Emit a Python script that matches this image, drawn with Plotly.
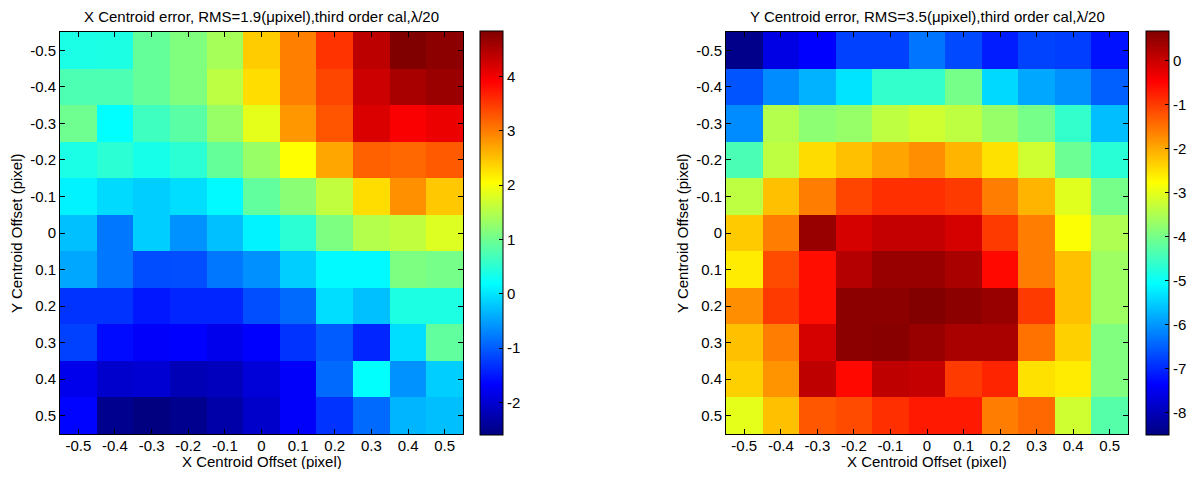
import plotly.graph_objects as go

offsets = [-0.5, -0.4, -0.3, -0.2, -0.1, 0.0, 0.1, 0.2, 0.3, 0.4, 0.5]
tick_labels = ["-0.5", "-0.4", "-0.3", "-0.2", "-0.1", "0", "0.1", "0.2", "0.3", "0.4", "0.5"]

# X centroid error (rows: Y offset -0.5 .. 0.5, cols: X offset -0.5 .. 0.5)
x_err = [
    [0.38, 0.40, 0.93, 1.12, 1.40, 2.42, 2.98, 3.54, 4.40, 4.84, 4.75],
    [0.75, 0.75, 0.93, 1.12, 1.57, 2.30, 2.98, 3.40, 4.28, 4.55, 4.65],
    [1.00, 0.19, 0.65, 0.85, 1.30, 1.86, 2.80, 3.30, 4.17, 3.95, 4.05],
    [0.38, 0.50, 0.35, 0.50, 0.93, 1.30, 2.05, 2.70, 3.20, 3.15, 3.25],
    [0.10, -0.08, -0.17, -0.05, 0.15, 0.90, 1.20, 1.60, 2.30, 2.85, 2.45],
    [-0.27, -0.80, -0.17, -0.60, -0.27, 0.10, 0.50, 1.10, 1.50, 1.60, 1.80],
    [-0.45, -0.80, -1.11, -1.10, -0.80, -0.62, -0.17, 0.15, 0.15, 1.10, 1.05],
    [-1.30, -1.30, -1.50, -1.40, -1.40, -1.10, -0.90, -0.05, -0.27, 0.40, 0.40],
    [-1.20, -1.60, -1.70, -1.68, -1.80, -1.67, -1.30, -1.00, -1.40, -0.05, 0.90],
    [-1.80, -2.04, -2.00, -2.20, -2.15, -1.95, -1.70, -0.90, 0.20, -0.60, -0.17],
    [-1.65, -2.50, -2.60, -2.50, -2.30, -2.05, -1.70, -1.30, -0.90, -0.35, -0.28],
]

# Y centroid error
y_err = [
    [-8.40, -7.60, -7.35, -6.77, -6.77, -6.30, -6.70, -7.10, -6.75, -6.80, -7.20],
    [-6.60, -6.10, -5.75, -5.30, -4.60, -4.60, -4.00, -5.40, -5.85, -6.05, -6.50],
    [-6.10, -3.45, -3.80, -3.70, -3.35, -3.20, -3.35, -3.70, -4.00, -4.60, -5.65],
    [-4.40, -3.35, -2.45, -2.20, -1.95, -1.75, -2.10, -2.50, -3.20, -4.10, -4.70],
    [-3.35, -2.20, -1.60, -1.10, -0.90, -0.90, -1.00, -1.60, -2.10, -3.05, -4.00],
    [-2.30, -1.60, 0.45, -0.10, 0.05, 0.05, -0.10, -1.00, -1.60, -2.80, -3.50],
    [-2.60, -1.15, -0.60, 0.20, 0.45, 0.45, 0.30, -0.55, -1.60, -2.20, -3.65],
    [-1.75, -1.00, -0.60, 0.55, 0.55, 0.65, 0.55, 0.45, -1.00, -2.20, -3.65],
    [-2.20, -1.60, -0.10, 0.55, 0.60, 0.45, 0.30, 0.30, -1.50, -2.35, -3.90],
    [-2.35, -1.80, 0.10, -0.55, 0.10, 0.05, -1.00, -0.80, -2.50, -2.60, -3.90],
    [-3.00, -2.20, -1.25, -1.15, -0.90, -0.70, -0.70, -1.60, -1.40, -3.20, -4.30],
]

x_range = [-2.6, 4.84]
y_range = [-8.5, 0.67]
x_cb_ticks = [-2, -1, 0, 1, 2, 3, 4]
y_cb_ticks = [-8, -7, -6, -5, -4, -3, -2, -1, 0]

titles = [
    "X Centroid error, RMS=1.9(\u03bcpixel),third order cal,\u03bb/20",
    "Y Centroid error, RMS=3.5(\u03bcpixel),third order cal,\u03bb/20",
]
x_title = "X Centroid Offset (pixel)"
y_title = "Y Centroid Offset (pixel)"

jet = [
    [0.0, "rgb(0,0,128)"],
    [0.125, "rgb(0,0,255)"],
    [0.375, "rgb(0,255,255)"],
    [0.625, "rgb(255,255,0)"],
    [0.875, "rgb(255,0,0)"],
    [1.0, "rgb(128,0,0)"],
]

# page body has an 8px margin; figure placed at (8, 8)
OFF = 8
W, H = 1196 - OFF, 477 - 2 * OFF
FONT = "Liberation Sans, Arial, sans-serif"

def px_x(v):
    return (v - OFF) / W

def px_y(v):
    return 1 - (v - OFF) / H

top, bottom = 32, 434
left_px = [60, 463]
right_px = [726, 1128]
left_dom = [px_x(left_px[0]), px_x(left_px[1])]
right_dom = [px_x(right_px[0]), px_x(right_px[1])]
ydom = [px_y(bottom), px_y(top)]

fig = go.Figure()

def cb(xpix, ticks):
    return dict(
        x=px_x(xpix), xanchor="left",
        thickness=23, thicknessmode="pixels",
        len=(bottom - top + 2) / H, lenmode="fraction",
        y=(px_y(bottom) + px_y(top)) / 2, yanchor="middle",
        outlinecolor="black", outlinewidth=1,
        ticks="inside", ticklen=4, tickcolor="black",
        tickfont=dict(family=FONT, size=15, color="black"),
        tickvals=ticks, ticktext=[str(t) for t in ticks],
        xpad=0, ypad=0,
    )

fig.add_trace(go.Heatmap(
    x=offsets, y=offsets, z=x_err, colorscale=jet,
    zmin=x_range[0], zmax=x_range[1],
    xaxis="x", yaxis="y",
    colorbar=cb(480, x_cb_ticks),
))
fig.add_trace(go.Heatmap(
    x=offsets, y=offsets, z=y_err, colorscale=jet,
    zmin=y_range[0], zmax=y_range[1],
    xaxis="x2", yaxis="y2",
    colorbar=cb(1146, y_cb_ticks),
))

def axis_style(dom, anchor, reversed_=False):
    return dict(
        domain=dom, anchor=anchor, automargin=False,
        range=[0.55, -0.55] if reversed_ else [-0.55, 0.55],
        tickvals=offsets, ticktext=tick_labels,
        ticks="inside", ticklen=5, tickcolor="black",
        showline=True, linecolor="black", linewidth=1, mirror="ticks",
        showgrid=False, zeroline=False,
        ticklabelstandoff=0 if reversed_ else -2,
        tickfont=dict(family=FONT, size=15, color="black"),
    )

fig.update_layout(
    width=W, height=H,
    margin=dict(l=0, r=0, t=0, b=0, autoexpand=False),
    paper_bgcolor="white", plot_bgcolor="white",
    xaxis=axis_style(left_dom, "y"),
    yaxis=axis_style(ydom, "x", reversed_=True),
    xaxis2=axis_style(right_dom, "y2"),
    yaxis2=axis_style(ydom, "x2", reversed_=True),
    font=dict(family=FONT, color="black"),
    showlegend=False,
)

for px, dom, t in zip([left_px, right_px], [left_dom, right_dom], titles):
    fig.add_annotation(
        text=t, x=(dom[0] + dom[1]) / 2, y=px_y(17), xref="paper", yref="paper",
        xanchor="center", yanchor="middle", showarrow=False, borderpad=0,
        font=dict(family=FONT, size=15, color="black"),
    )
    fig.add_annotation(
        text=x_title, x=(dom[0] + dom[1]) / 2, y=px_y(461), xref="paper", yref="paper",
        xanchor="center", yanchor="middle", showarrow=False,
        font=dict(family=FONT, size=15, color="black"),
    )
    fig.add_annotation(
        text=y_title, x=px_x(px[0] - 44), y=(ydom[0] + ydom[1]) / 2, xref="paper", yref="paper",
        xanchor="center", yanchor="middle", showarrow=False, textangle=-90,
        font=dict(family=FONT, size=15, color="black"),
    )

fig.write_html("out.html")
